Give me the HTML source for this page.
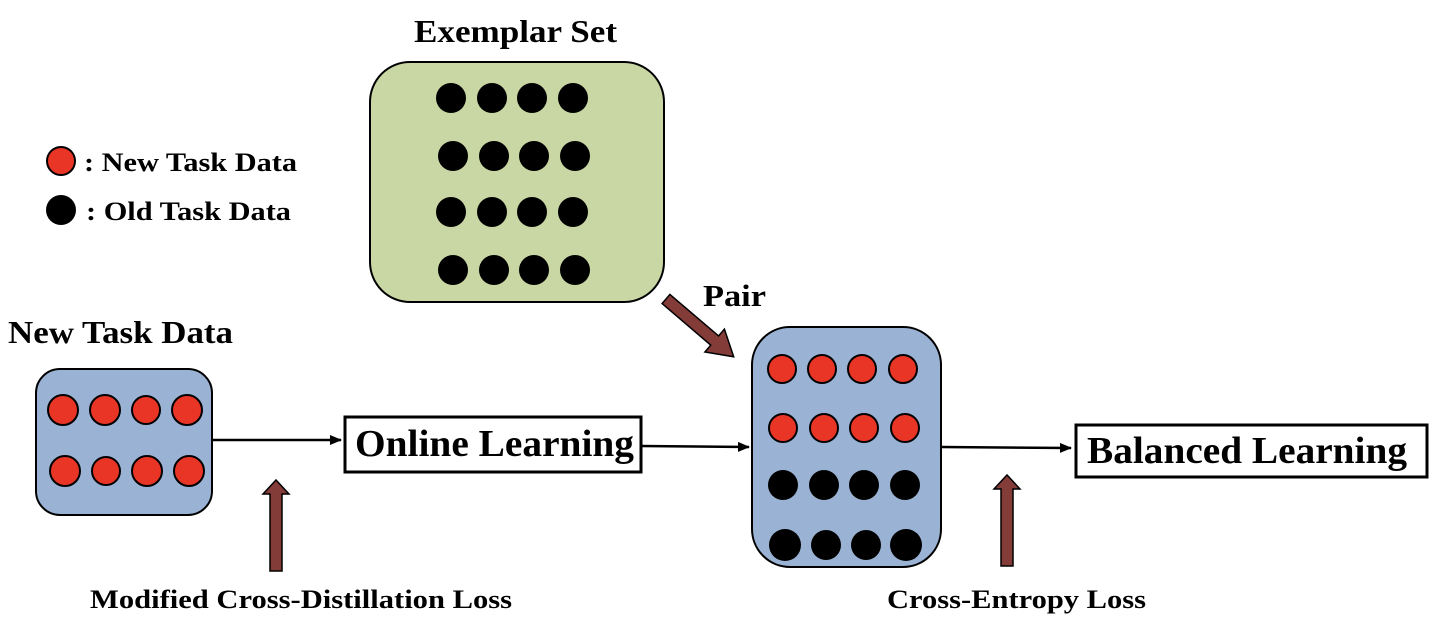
<!DOCTYPE html>
<html><head><meta charset="utf-8"><style>html,body{margin:0;padding:0;background:#fff;width:1440px;height:626px;overflow:hidden}</style></head>
<body>
<svg width="1440" height="626" viewBox="0 0 1440 626" xmlns="http://www.w3.org/2000/svg" font-family="'Liberation Serif', serif" font-weight="bold">
<defs><marker id="ah" markerWidth="12" markerHeight="10" refX="11" refY="5" orient="auto" markerUnits="userSpaceOnUse"><path d="M0,0 L12,5 L0,10 z" fill="#000"/></marker></defs>
<text x="414" y="42" font-size="32" textLength="203" lengthAdjust="spacingAndGlyphs">Exemplar Set</text>
<rect x="370" y="62" width="294" height="240" rx="40" fill="#c8d7a3" stroke="#000" stroke-width="2"/>
<g fill="#000">
<circle cx="451" cy="98" r="15"/><circle cx="492" cy="98" r="15"/><circle cx="532" cy="98" r="15"/><circle cx="573" cy="98" r="15"/>
<circle cx="453" cy="156" r="15"/><circle cx="494" cy="156" r="15"/><circle cx="534" cy="156" r="15"/><circle cx="575" cy="156" r="15"/>
<circle cx="451" cy="212" r="15"/><circle cx="492" cy="212" r="15"/><circle cx="532" cy="212" r="15"/><circle cx="573" cy="212" r="15"/>
<circle cx="453" cy="270" r="15"/><circle cx="494" cy="270" r="15"/><circle cx="534" cy="270" r="15"/><circle cx="575" cy="270" r="15"/>
</g>
<circle cx="61" cy="161" r="14" fill="#e83526" stroke="#000" stroke-width="2"/>
<text x="84" y="171" font-size="26" textLength="213" lengthAdjust="spacingAndGlyphs">: New Task Data</text>
<circle cx="61" cy="210" r="15" fill="#000"/>
<text x="86" y="220" font-size="26" textLength="205" lengthAdjust="spacingAndGlyphs">: Old Task Data</text>
<text x="8" y="343" font-size="32" textLength="225" lengthAdjust="spacingAndGlyphs">New Task Data</text>
<rect x="36" y="369" width="176" height="146" rx="24" fill="#9ab3d5" stroke="#000" stroke-width="2"/>
<g fill="#e83526" stroke="#000" stroke-width="2">
<circle cx="63" cy="410" r="15"/><circle cx="105" cy="410" r="15"/><circle cx="146" cy="410" r="14"/><circle cx="187" cy="410" r="15"/>
<circle cx="65" cy="471" r="15"/><circle cx="106" cy="471" r="14"/><circle cx="147" cy="471" r="15"/><circle cx="189" cy="471" r="15"/>
</g>
<line x1="212" y1="440" x2="341" y2="440" stroke="#000" stroke-width="2.5" marker-end="url(#ah)"/>
<rect x="345" y="417" width="296" height="55" fill="#fff" stroke="#000" stroke-width="3"/>
<text x="355" y="456" font-size="38" textLength="279" lengthAdjust="spacingAndGlyphs">Online Learning</text>
<line x1="641" y1="446" x2="749" y2="447" stroke="#000" stroke-width="2.5" marker-end="url(#ah)"/>
<rect x="752" y="327" width="189" height="240" rx="38" fill="#9ab3d5" stroke="#000" stroke-width="2"/>
<g fill="#e83526" stroke="#000" stroke-width="2">
<circle cx="782" cy="369" r="14"/><circle cx="822" cy="369" r="14"/><circle cx="862" cy="369" r="14"/><circle cx="903" cy="369" r="14"/>
<circle cx="783" cy="428" r="14"/><circle cx="824" cy="428" r="14"/><circle cx="864" cy="428" r="14"/><circle cx="905" cy="428" r="14"/>
</g>
<g fill="#000">
<circle cx="783" cy="485" r="15"/><circle cx="824" cy="485" r="15"/><circle cx="864" cy="485" r="15"/><circle cx="905" cy="485" r="15"/>
<circle cx="785" cy="545" r="16"/><circle cx="826" cy="545" r="15"/><circle cx="866" cy="545" r="15"/><circle cx="906" cy="545" r="16"/>
</g>
<line x1="941" y1="447" x2="1071" y2="448" stroke="#000" stroke-width="2.5" marker-end="url(#ah)"/>
<rect x="1076" y="425" width="351" height="52" fill="#fff" stroke="#000" stroke-width="3"/>
<text x="1087" y="463" font-size="38" textLength="320" lengthAdjust="spacingAndGlyphs">Balanced Learning</text>
<text x="703" y="306" font-size="31" textLength="63" lengthAdjust="spacingAndGlyphs">Pair</text>
<g transform="translate(666,299) rotate(40.5)">
<polygon points="0,-6 64,-6 64,-15 89,0 64,15 64,6 0,6" fill="#843c39" stroke="#000" stroke-width="1.5"/>
</g>
<polygon points="270,571 270,494 263,494 276,480 289,494 282,494 282,571" fill="#843c39" stroke="#000" stroke-width="1.5"/>
<polygon points="1001,566 1001,489 994,489 1007,475 1020,489 1013,489 1013,566" fill="#843c39" stroke="#000" stroke-width="1.5"/>
<text x="90" y="608" font-size="26" textLength="422" lengthAdjust="spacingAndGlyphs">Modified Cross-Distillation Loss</text>
<text x="887" y="608" font-size="26" textLength="259" lengthAdjust="spacingAndGlyphs">Cross-Entropy Loss</text>
</svg>
</body></html>
